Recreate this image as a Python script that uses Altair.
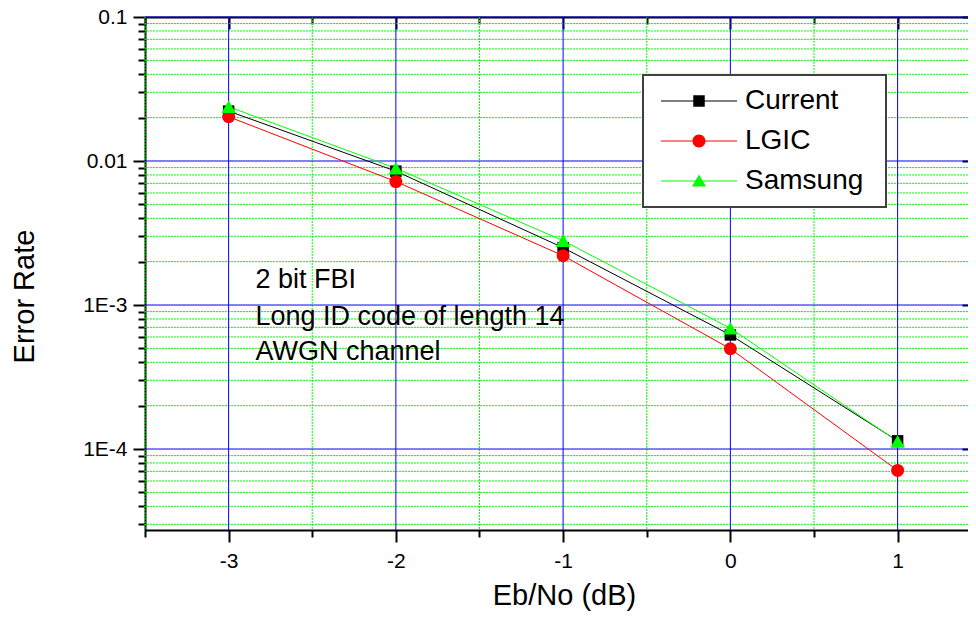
import altair as alt
import pandas as pd

# ---------------- data ----------------
SERIES = ["Current", "LGIC", "Samsung"]
COLORS = ["#000000", "#ff0000", "#00ff00"]
EBNO = [-3, -2, -1, 0, 1]
CURRENT = [0.0222, 0.0085, 0.0025, 0.00062, 0.000114]
LGIC = [0.0203, 0.0072, 0.0022, 0.000497, 0.000071]
SAMSUNG = [0.0238, 0.0089, 0.0028, 0.00069, 0.000113]

X_MAJOR = [-3, -2, -1, 0, 1]
X_MAJOR_LABELS = ["-3", "-2", "-1", "0", "1"]
X_MINOR = [-3.5, -2.5, -1.5, -0.5, 0.5]
Y_MAJOR = [1e-4, 1e-3, 1e-2, 1e-1]
Y_MAJOR_LABELS = ["1E-4", "1E-3", "0.01", "0.1"]
Y_MINOR = [3e-5, 4e-5, 5e-5, 6e-5, 7e-5, 8e-5, 9e-5,
           2e-4, 3e-4, 4e-4, 5e-4, 6e-4, 7e-4, 8e-4, 9e-4,
           2e-3, 3e-3, 4e-3, 5e-3, 6e-3, 7e-3, 8e-3, 9e-3,
           2e-2, 3e-2, 4e-2, 5e-2, 6e-2, 7e-2, 8e-2, 9e-2]
X_DOMAIN = [-3.5, 1.4208]
Y_DOMAIN = [2.74e-5, 0.1]

ANNOT_TEXT = ["2 bit FBI", "Long ID code of length 14", "AWGN channel"]
ANNOT_X = [-2.84, -2.84, -2.84]
ANNOT_Y = [0.001306, 0.000726, 0.000415]

FONT = "Liberation Sans"

rows = []
for name, vals in zip(SERIES, [CURRENT, LGIC, SAMSUNG]):
    for xv, yv in zip(EBNO, vals):
        rows.append({"x": xv, "value": yv, "series": name})
df = pd.DataFrame(rows)
ann = pd.DataFrame({"text": ANNOT_TEXT, "x": ANNOT_X, "y": ANNOT_Y})


def label_expr(values, labels):
    expr = "'" + labels[-1] + "'"
    for i in range(len(values) - 2, -1, -1):
        mid = (values[i] + values[i + 1]) / 2
        expr = f"datum.value < {mid} ? '{labels[i]}' : ({expr})"
    return expr


# legend symbols: line segment + marker (unit = sqrt(size)/2 = 7px)
U = 7.0
def _u(px):
    return round(px / U, 4)

line_rect = f"M{_u(-8)},{_u(-0.5)}H{_u(68)}V{_u(0.5)}H{_u(-8)}Z"
mc = _u(30)
sq_h = _u(5.75)
circ_r = _u(6.5)
far = f"M{_u(205)},0"
LEGEND_PATHS = [
    line_rect + f"M{mc - sq_h},{-sq_h}H{mc + sq_h}V{sq_h}H{mc - sq_h}Z" + far,
    line_rect + f"M{mc - circ_r},0A{circ_r},{circ_r} 0 1,1 {mc + circ_r},0A{circ_r},{circ_r} 0 1,1 {mc - circ_r},0Z" + far,
    line_rect + f"M{mc},{_u(-6.5)}L{mc + _u(7)},{_u(5.6)}L{mc - _u(7)},{_u(5.6)}Z" + far,
]

xs = alt.Scale(domain=X_DOMAIN, nice=False, zero=False)
ys = alt.Scale(type="log", domain=Y_DOMAIN, nice=False)
cs = alt.Scale(domain=SERIES, range=COLORS)
cs_marks = alt.Scale(domain=SERIES[::-1], range=COLORS[::-1])

GREEN = "#00ff00"
BLUE = "#0000ff"

x_bottom_major = alt.Axis(
    orient="bottom", values=X_MAJOR, grid=False,
    domain=True, domainWidth=2, domainColor="#000000",
    ticks=True, tickSize=12, tickWidth=2, tickColor="#000000",
    labelExpr=label_expr(X_MAJOR, X_MAJOR_LABELS), labelFont=FONT, labelFontSize=21,
    labelColor="#000000", labelPadding=8, labelOverlap=False, labelFlush=False,
    title="Eb/No (dB)", titleFont=FONT, titleFontSize=29, titleFontWeight="normal",
    titleColor="#000000", titleX=419, titleY=65, titleBaseline="middle", titleAlign="center",
)
x_bottom_minor = alt.Axis(
    orient="bottom", values=X_MINOR, grid=False,
    domain=False, ticks=True, tickSize=7, tickWidth=2, tickColor="#000000",
    labels=False, title=None,
)
x_top_frame = alt.Axis(
    orient="top", grid=False, domain=True, domainWidth=2, domainColor="#000000",
    ticks=False, labels=False, title=None,
)
x_top_major = alt.Axis(
    orient="top", values=X_MAJOR, grid=False, domain=False, offset=-12,
    ticks=True, tickSize=12, tickWidth=2, tickColor="#000000",
    labels=False, title=None,
)
x_top_minor = alt.Axis(
    orient="top", values=X_MINOR, grid=False, domain=False, offset=-7,
    ticks=True, tickSize=7, tickWidth=2, tickColor="#000000",
    labels=False, title=None,
)
y_left_major = alt.Axis(
    orient="left", values=Y_MAJOR, grid=False,
    domain=True, domainWidth=2, domainColor="#000000",
    ticks=True, tickSize=12, tickWidth=2, tickColor="#000000",
    labelExpr=label_expr(Y_MAJOR, Y_MAJOR_LABELS), labelFont=FONT, labelFontSize=21,
    labelColor="#000000", labelPadding=6, labelOverlap=False, labelFlush=False,
    title="Error Rate", titleFont=FONT, titleFontSize=29, titleFontWeight="normal",
    titleColor="#000000", titleX=-121, titleY=279, titleAngle=270,
    titleBaseline="middle", titleAlign="center",
)
y_left_minor = alt.Axis(
    orient="left", values=Y_MINOR, grid=False,
    domain=False, ticks=True, tickSize=7, tickWidth=2, tickColor="#000000",
    labels=False, title=None,
)
y_right = alt.Axis(
    orient="right", values=Y_MAJOR, grid=False, domain=False, offset=-6,
    ticks=True, tickSize=6, tickWidth=2, tickColor="#000000",
    labels=False, title=None,
)

# ---------------- grid lines (rules from the tick arrays) ----------------
grid_x_minor = alt.Chart(pd.DataFrame({"v": X_MINOR})).mark_rule(
    color=GREEN, strokeWidth=1, strokeDash=[2, 1]
).encode(x=alt.X("v:Q", scale=xs, axis=None))
grid_y_minor = alt.Chart(pd.DataFrame({"v": Y_MINOR})).mark_rule(
    color=GREEN, strokeWidth=1, strokeDash=[2, 1]
).encode(y=alt.Y("v:Q", scale=ys, axis=None))
grid_x_major = alt.Chart(pd.DataFrame({"v": X_MAJOR})).mark_rule(
    color=BLUE, strokeWidth=1
).encode(x=alt.X("v:Q", scale=xs, axis=None))
grid_y_major = alt.Chart(pd.DataFrame({"v": Y_MAJOR})).mark_rule(
    color=BLUE, strokeWidth=1
).encode(y=alt.Y("v:Q", scale=ys, axis=None))

base = alt.Chart(df)

lines = base.mark_line(strokeWidth=1).encode(
    x=alt.X("x:Q", scale=xs, axis=x_bottom_major),
    y=alt.Y("value:Q", scale=ys, axis=y_left_major),
    stroke=alt.Stroke("series:N", scale=cs_marks, legend=None),
)

squares = base.transform_filter(alt.datum.series == SERIES[0]).mark_point(
    filled=True, shape="square", size=132, opacity=1
).encode(
    x=alt.X("x:Q", scale=xs, axis=x_bottom_minor),
    y=alt.Y("value:Q", scale=ys, axis=y_left_minor),
    fill=alt.Fill("series:N", scale=cs_marks, legend=None),
)

circles = base.transform_filter(alt.datum.series == SERIES[1]).mark_point(
    filled=True, shape="circle", size=169, opacity=1
).encode(
    x=alt.X("x:Q", scale=xs, axis=x_top_major),
    y=alt.Y("value:Q", scale=ys, axis=y_right),
    fill=alt.Fill("series:N", scale=cs_marks, legend=None),
)

triangles = base.transform_filter(alt.datum.series == SERIES[2]).mark_point(
    filled=True, shape="triangle-up", size=210, opacity=1
).encode(
    x=alt.X("x:Q", scale=xs, axis=x_top_minor),
    y=alt.Y("value:Q", scale=ys, axis=None),
    fill=alt.Fill("series:N", scale=cs_marks, legend=None),
)

texts = alt.Chart(ann).mark_text(
    align="left", baseline="alphabetic", font=FONT, fontSize=27, color="#000000"
).encode(
    x=alt.X("x:Q", scale=xs, axis=x_top_frame),
    y=alt.Y("y:Q", scale=ys, axis=None),
    text="text:N",
)

leg = alt.Legend(
    title=None, orient="none", legendX=498, legendY=58, padding=12, rowPadding=12,
    symbolSize=196, symbolStrokeWidth=0, symbolOpacity=1,
    labelFont=FONT, labelFontSize=28, labelColor="#000000", labelOffset=62, labelLimit=0,
    fillColor="#ffffff", strokeColor="#404040",
)

legend_layer = base.mark_point(filled=True, opacity=0, size=10).encode(
    x=alt.X("x:Q", scale=xs, axis=None),
    y=alt.Y("value:Q", scale=ys, axis=None),
    color=alt.Color("series:N", scale=cs, title=None, legend=leg),
    shape=alt.Shape("series:N", scale=alt.Scale(domain=SERIES, range=LEGEND_PATHS),
                    title=None, legend=leg),
)

chart = alt.layer(
    grid_x_minor, grid_y_minor, grid_x_major, grid_y_major,
    lines, squares, circles, triangles, texts, legend_layer
).resolve_axis(
    x="independent", y="independent"
).properties(
    width=823, height=513,
    autosize=alt.AutoSizeParams(type="none"),
    padding={"left": 137, "top": 9, "right": 0, "bottom": 81},
    background="#ffffff",
).configure_view(stroke=None).configure_legend(strokeWidth=2)

chart.save("out.html", embed_options={"renderer": "svg", "actions": False})
